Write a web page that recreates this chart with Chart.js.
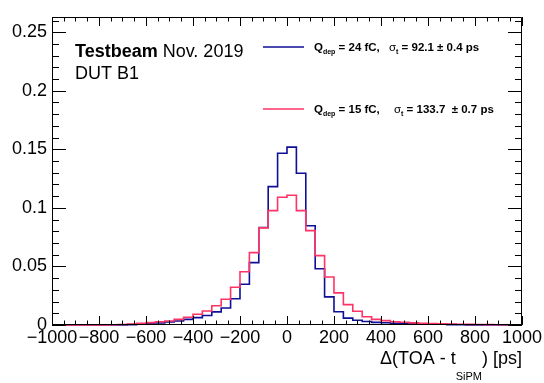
<!DOCTYPE html>
<html><head><meta charset="utf-8">
<script src="https://cdn.jsdelivr.net/npm/chart.js@4/dist/chart.umd.min.js"></script>
<style>html,body{margin:0;padding:0;background:#fff}canvas{display:block}</style>
</head><body>
<canvas id="c" width="544" height="383"></canvas>
<script>
// Histogram bins: lower edges (ps), bin width 40 ps, last upper edge 1000
const binLowEdges = [-1000,-960,-920,-880,-840,-800,-760,-720,-680,-640,-600,-560,-520,-480,-440,-400,-360,-320,-280,-240,-200,-160,-120,-80,-40,0,40,80,120,160,200,240,280,320,360,400,440,480,520,560,600,640,680,720,760,800,840,880,920,960];
const binUpperEdge = 1000;
// Q_dep = 24 fC (blue)
const countsQ24 = [0,0,0,0,0,0,0,0.0001,0.0003,0.0006,0.0011,0.0017,0.0026,0.0034,0.0048,0.0063,0.0081,0.0112,0.0145,0.0224,0.0348,0.0533,0.0832,0.1182,0.1467,0.1519,0.1296,0.0848,0.0480,0.0240,0.0113,0.0059,0.0040,0.0030,0.0022,0.0019,0.0014,0.0012,0.0011,0.0010,0.0009,0.0006,0.0003,0.0002,0.0001,0,0,0,0,0];
// Q_dep = 15 fC (pink)
const countsQ15 = [0,0,0,0,0,0,0.0002,0.0004,0.0009,0.0014,0.0020,0.0028,0.0034,0.0048,0.0066,0.0092,0.0120,0.0165,0.0220,0.0322,0.0455,0.0618,0.0829,0.0977,0.1091,0.1108,0.0977,0.0806,0.0592,0.0410,0.0274,0.0174,0.0118,0.0071,0.0048,0.0037,0.0028,0.0023,0.0018,0.0015,0.0013,0.0010,0.0008,0.0006,0.0005,0.0004,0.0003,0.0002,0.0002,0.0001];
const xTicks = [-1000,-800,-600,-400,-200,0,200,400,600,800,1000];
const xTickLabels = ['\u22121000','\u2212800','\u2212600','\u2212400','\u2212200','0','200','400','600','800','1000'];
const yTicks = [0,0.05,0.1,0.15,0.2,0.25];
const yTickLabels = ['0','0.05','0.1','0.15','0.2','0.25'];
const xRange = [-1000, 1000];
const yRange = [0, 0.263];

const FONT = "'Liberation Sans', Arial, Helvetica, sans-serif";
const BLUE = 'rgb(14,14,150)';
const PINK = 'rgb(255,51,102)';

function histPoints(edges, counts) {
  const pts = edges.map((e, i) => ({x: e, y: counts[i]}));
  pts.push({x: binUpperEdge, y: counts[counts.length - 1]});
  return pts;
}

const framePlugin = {
  id: 'frame',
  afterDatasetsDraw(chart) {
    const {ctx, chartArea: a, scales: {x, y}} = chart;
    ctx.save();
    ctx.strokeStyle = '#000';
    ctx.lineWidth = 1;
    ctx.beginPath();
    ctx.rect(Math.round(a.left) + 0.5, Math.round(a.top) + 0.5, Math.round(a.right - a.left) - 1, Math.round(a.bottom - a.top) - 1);
    ctx.stroke();
    ctx.beginPath();
    for (let k = 0; k <= 40; k++) {
      const v = -1000 + 50 * k;
      const px = Math.round(x.getPixelForValue(v)) + 0.5;
      const len = (k % 4 === 0) ? 9 : 4.5;
      ctx.moveTo(px, a.bottom); ctx.lineTo(px, a.bottom - len);
      ctx.moveTo(px, a.top); ctx.lineTo(px, a.top + len);
    }
    for (let k = 0; k <= 26; k++) {
      const v = k * 0.01;
      const py = Math.round(y.getPixelForValue(v)) + 0.5;
      const len = (k % 5 === 0) ? 14 : 7;
      ctx.moveTo(a.left, py); ctx.lineTo(a.left + len, py);
      ctx.moveTo(a.right, py); ctx.lineTo(a.right - len, py);
    }
    ctx.stroke();
    ctx.restore();
  },
  afterDraw(chart) {
    const ctx = chart.ctx;
    ctx.save();
    ctx.fillStyle = '#000';
    ctx.textBaseline = 'alphabetic';
    ctx.textAlign = 'left';
    function runs(x0, y0, list) {
      let xx = x0;
      for (const r of list) {
        ctx.font = r.f;
        ctx.fillText(r.t, xx, y0 + (r.dy || 0));
        xx += ctx.measureText(r.t).width;
      }
      return xx;
    }
    function width(list) {
      let w = 0;
      for (const r of list) { ctx.font = r.f; w += ctx.measureText(r.t).width; }
      return w;
    }
    // Header text
    runs(75, 57, [{t: 'Testbeam', f: 'bold 18px ' + FONT}, {t: ' Nov. 2019', f: '18px ' + FONT}]);
    runs(75, 79, [{t: 'DUT B1', f: '18px ' + FONT}]);
    // Legend
    const B = 'bold 11.5px ' + FONT, S = 'bold 7px ' + FONT, G = '11.5px ' + FONT, GS = 'bold 7px ' + FONT;
    const rows = [
      {color: BLUE, ly: 47, ty: 51, q: ' = 24 fC,', sx: 389, s: ' = 92.1 \u00b1 0.4 ps'},
      {color: PINK, ly: 109, ty: 113, q: ' = 15 fC,', sx: 394, s: ' = 133.7  \u00b1 0.7 ps'}
    ];
    for (const r of rows) {
      ctx.strokeStyle = r.color; ctx.lineWidth = 1.6;
      ctx.beginPath(); ctx.moveTo(263, r.ly); ctx.lineTo(304, r.ly); ctx.stroke();
      runs(314, r.ty, [{t: 'Q', f: B}, {t: 'dep', f: S, dy: 3}, {t: r.q, f: B}]);
      runs(r.sx, r.ty, [{t: '\u03c3', f: G}, {t: 't', f: GS, dy: 3}, {t: r.s, f: B}]);
    }
    // X axis title
    const M = '18px ' + FONT, SUB = '11px ' + FONT;
    const title = [{t: '\u0394(TOA - t', f: M}, {t: 'SiPM', f: SUB, dy: 16}, {t: ') [ps]', f: M}];
    runs(522 - width(title), 364, title);
    ctx.restore();
  }
};

new Chart(document.getElementById('c'), {
  type: 'line',
  data: {
    datasets: [
      {label: 'Q_dep = 24 fC', data: histPoints(binLowEdges, countsQ24), borderColor: BLUE, borderWidth: 1.6, stepped: 'before', pointRadius: 0, fill: false, order: 1, clip: 4},
      {label: 'Q_dep = 15 fC', data: histPoints(binLowEdges, countsQ15), borderColor: PINK, borderWidth: 1.6, stepped: 'before', pointRadius: 0, fill: false, order: 0, clip: 4}
    ]
  },
  options: {
    responsive: false,
    animation: false,
    devicePixelRatio: 1,
    layout: {padding: {left: 0, top: 17, right: 22, bottom: 0}},
    plugins: {legend: {display: false}, tooltip: {enabled: false}, title: {display: false}},
    scales: {
      x: {
        type: 'linear', min: xRange[0], max: xRange[1],
        grid: {display: false, drawTicks: false}, border: {display: false},
        afterBuildTicks: s => { s.ticks = xTicks.map(v => ({value: v})); },
        afterFit: s => { s.height = 58; },
        ticks: {autoSkip: false, maxRotation: 0, padding: 2, color: '#000', font: {family: FONT, size: 18},
          callback: v => { const i = xTicks.indexOf(v); return i >= 0 ? xTickLabels[i] : ''; }}
      },
      y: {
        type: 'linear', min: yRange[0], max: yRange[1],
        grid: {display: false, drawTicks: false}, border: {display: false},
        afterBuildTicks: s => { s.ticks = yTicks.map(v => ({value: v})); },
        afterFit: s => { s.width = 52; },
        ticks: {padding: 5, color: '#000', font: {family: FONT, size: 18},
          callback: v => { const i = yTicks.findIndex(t => Math.abs(t - v) < 1e-9); return i >= 0 ? yTickLabels[i] : ''; }}
      }
    }
  },
  plugins: [framePlugin]
});
</script>
</body></html>
